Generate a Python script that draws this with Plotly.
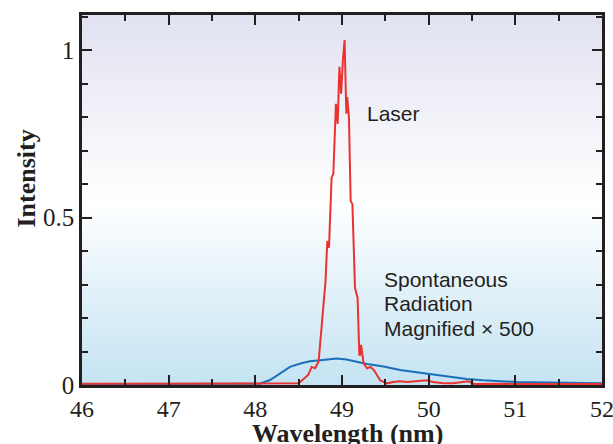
import plotly.graph_objects as go

# Laser (red) spectrum
laser_wl = [46.0, 46.5, 47.0, 47.5, 48.0, 48.3, 48.5, 48.61, 48.65, 48.69, 48.73, 48.75, 48.78,
            48.81, 48.83, 48.85, 48.88, 48.90, 48.93, 48.95, 48.97, 48.99, 49.01, 49.03,
            49.05, 49.06, 49.08, 49.10, 49.12, 49.15, 49.18, 49.20, 49.21, 49.22, 49.25,
            49.29, 49.33, 49.37, 49.44, 49.52, 49.59, 49.67, 49.75, 49.86, 49.98, 50.05,
            50.17, 50.28, 50.40, 50.46, 50.52, 50.63, 50.86, 50.98, 51.3, 51.6, 52.0]
laser_int = [0.004, 0.004, 0.004, 0.004, 0.004, 0.004, 0.005, 0.03, 0.054, 0.05, 0.07, 0.13, 0.21,
             0.31, 0.43, 0.41, 0.62, 0.63, 0.84, 0.78, 0.95, 0.87, 0.97, 1.03,
             0.81, 0.86, 0.80, 0.55, 0.54, 0.29, 0.26, 0.09, 0.09, 0.12, 0.064,
             0.05, 0.054, 0.044, 0.014, 0.005, 0.009, 0.011, 0.009, 0.011, 0.014, 0.009,
             0.005, 0.005, 0.009, 0.011, 0.003, 0.004, 0.004, 0.003, 0.003, 0.003, 0.003]

# Spontaneous radiation (blue), magnified x500
spont_wl = [46.0, 47.0, 47.94, 48.05, 48.17, 48.28, 48.40, 48.52, 48.63, 48.75, 48.86, 48.94,
            49.05, 49.17, 49.29, 49.48, 49.67, 49.86, 50.05, 50.25, 50.44, 50.63, 50.82,
            51.01, 51.21, 51.40, 51.78, 52.0]
spont_int = [0.002, 0.002, 0.002, 0.004, 0.015, 0.034, 0.054, 0.064, 0.071, 0.074, 0.077, 0.079,
             0.076, 0.069, 0.063, 0.055, 0.045, 0.038, 0.031, 0.023, 0.018, 0.014, 0.011,
             0.009, 0.008, 0.007, 0.006, 0.005]

x_ticks = [46, 47, 48, 49, 50, 51, 52]
y_ticks = [0, 0.5, 1]
y_ticktext = ["0", "0.5", "1"]

YMAX = 1.105
bg_levels = [i * YMAX / 60 for i in range(61)]

fig = go.Figure()
fig.add_trace(go.Heatmap(
    x=[46, 52], y=bg_levels, z=[[v, v] for v in bg_levels],
    colorscale=[[0, "#c4e3f2"], [0.5, "#ffffff"], [1, "#e1e2f1"]],
    zsmooth="best", showscale=False, hoverinfo="skip"))
fig.add_trace(go.Scatter(x=spont_wl, y=spont_int, mode="lines",
                         line=dict(color="#1a6fba", width=2), showlegend=False))
fig.add_trace(go.Scatter(x=laser_wl, y=laser_int, mode="lines",
                         line=dict(color="#ea3230", width=2), showlegend=False))

serif = "Liberation Serif"
sans = "Liberation Sans"
ink = "#231f20"
axis_common = dict(showline=True, linecolor=ink, linewidth=2.5, mirror="allticks",
                   ticks="inside", ticklen=10, tickwidth=2, tickcolor=ink,
                   showgrid=False, zeroline=False, automargin=False,
                   ticklabeloverflow="allow")
fig.update_xaxes(range=[46, 52], tickvals=x_ticks,
                 minor=dict(dtick=0.5, ticks="inside", ticklen=6, tickwidth=2, tickcolor=ink),
                 tickfont=dict(family=serif, size=24, color=ink),
                 **axis_common)
fig.update_yaxes(range=[0, YMAX], tickvals=y_ticks, ticktext=y_ticktext,
                 minor=dict(dtick=0.1, ticks="inside", ticklen=6, tickwidth=2, tickcolor=ink),
                 tickfont=dict(family=serif, size=25, color=ink),
                 **axis_common)

title_font = dict(family=serif, size=26, color=ink)
fig.add_annotation(xref="paper", yref="paper", x=0.51, y=0, yshift=-48,
                   xanchor="center", yanchor="middle",
                   text="<b>Wavelength (nm)</b>", showarrow=False, font=title_font)
fig.add_annotation(xref="paper", yref="paper", x=0, xshift=-55, y=0.558, textangle=-90,
                   xanchor="center", yanchor="middle",
                   text="<b>Intensity</b>", showarrow=False, font=title_font)

ann_font = dict(family=sans, size=21, color=ink)
fig.add_annotation(x=49.27, y=0.81, text="Laser", showarrow=False, xanchor="left", font=ann_font)
fig.add_annotation(x=49.46, y=0.314, text="Spontaneous", showarrow=False, xanchor="left", font=ann_font)
fig.add_annotation(x=49.46, y=0.242, text="Radiation", showarrow=False, xanchor="left", font=ann_font)
fig.add_annotation(x=49.46, y=0.168, text="Magnified × 500", showarrow=False, xanchor="left", font=ann_font)

fig.update_layout(width=613, height=444, margin=dict(l=82, r=11, t=15, b=59),
                  paper_bgcolor="white", plot_bgcolor="white")
fig.write_html("out.html", config={"displayModeBar": False},
               post_script="document.body.style.margin='0';document.body.style.overflow='hidden';")
